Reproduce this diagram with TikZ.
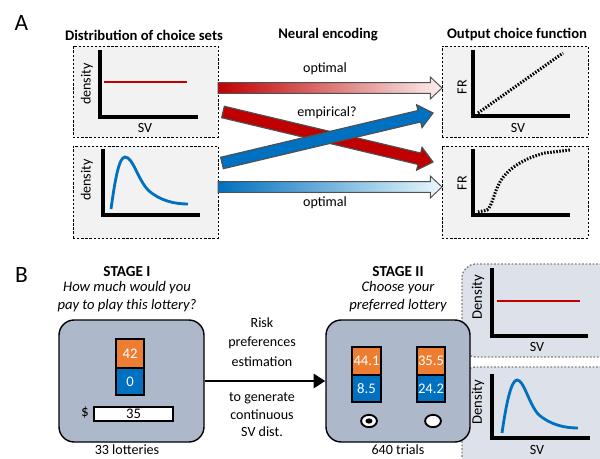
\documentclass[tikz,border=0pt]{standalone}
\usepackage{fontspec}
\setmainfont{Carlito}
\usepackage{xcolor}
\usetikzlibrary{positioning,fit,calc,arrows.meta,shapes.geometric}

\definecolor{ered}{HTML}{C00000}
\definecolor{eblue}{HTML}{0070C0}
\definecolor{redfade}{HTML}{FCEFEF}
\definecolor{bluefade}{HTML}{EAF8FC}
\definecolor{edgegray}{HTML}{505050}
\definecolor{panelgray}{HTML}{F2F2F2}
\definecolor{stagefill}{HTML}{ADB9CA}
\definecolor{distfill}{HTML}{DDE2EA}
\definecolor{lorange}{HTML}{ED7D31}
\definecolor{lblue}{HTML}{0070C0}

% block arrow: style, from, to, half width, head half width, head length
\newcommand{\fatarrow}[6]{%
  \coordinate (fa-neck) at ($(#3)!#6!(#2)$);
  \path[#1] ($(#2)!#4!90:(#3)$) -- ($(fa-neck)!#4!-90:(#2)$)
    -- ($(fa-neck)!#5!-90:(#2)$) -- (#3)
    -- ($(fa-neck)!#5!90:(#2)$) -- ($(fa-neck)!#4!90:(#2)$)
    -- ($(#2)!#4!-90:(#3)$) -- cycle;}

\begin{document}
\begin{tikzpicture}[x=0.03cm, y=-0.03cm,
    lbl/.style={font=\fontsize{12}{14}\selectfont, inner sep=1pt},
    ttl/.style={font=\bfseries\fontsize{12.5}{15}\selectfont, inner sep=1pt},
    ask/.style={font=\itshape\fontsize{12.5}{15.3}\selectfont, align=center, inner sep=1pt},
    big/.style={font=\fontsize{20}{24}\selectfont, inner sep=0pt},
    panel/.style={draw, dash pattern=on 2pt off 1.5pt, line width=0.8pt,
                  fill=panelgray, inner sep=0pt},
    distpanel/.style={draw=gray, dash pattern=on 1.5pt off 1.5pt, line width=1.2pt,
                      fill=distfill, rounded corners=12pt, inner sep=0pt},
    stagebox/.style={draw, line width=1.2pt, fill=stagefill, rounded corners=13pt,
                     inner sep=0pt},
    axis/.style={line width=2.6pt},
    redline/.style={ered, line width=1.8pt},
    bluecurve/.style={eblue, line width=2.4pt},
    frline/.style={line width=2.6pt, dash pattern=on 1.3pt off 1.3pt},
    lotO/.style={draw, line width=1.1pt, fill=lorange, inner sep=0pt},
    lotB/.style={lotO, fill=lblue},
    num/.style={text=white, inner sep=0pt, font=\fontsize{12.5}{14}\selectfont},
    radio/.style={ellipse, draw, line width=1.6pt, fill=white, minimum width=13.5pt,
                  minimum height=10.5pt, inner sep=0pt},
    pickdot/.style={ellipse, fill, minimum width=6pt, minimum height=4.5pt, inner sep=0pt},
    arr/.style={line width=2.5pt, -{Triangle[length=10pt, width=12pt]}}
]
\useasboundingbox (0,0) rectangle (600,459);
\clip (0,0) rectangle (600,459);

%%% A
\node[big] (labA) at (21.5,22.5) {A};
\node[ttl] (tDist) at (144,35) {Distribution of choice sets};
\node[ttl] (tEnc)  at (328,35) {Neural encoding};
\node[ttl] (tOut)  at (517,35) {Output choice function};

\node[panel, fit={(73,46) (218,137)}]  (distU) {};
\node[panel, fit={(73,146) (218,238)}] (distL) {};
\node[panel, fit={(442,46) (588,137)}]  (outU) {};
\node[panel, fit={(442,146) (588,238)}] (outL) {};

% uniform distribution
\draw[axis] (100,50) -- (100,117) -- (198,117);
\draw[redline] (104,82) -- (187,82);
\node[lbl, rotate=90] (denU) at (87,84) {density};
\node[lbl] (svU) at (145,128) {SV};

% skewed distribution
\draw[axis] (103,149) -- (103,215) -- (200,215);
\draw[bluecurve] (111,209) .. controls (115,180) and (119,157) .. (125,157)
  .. controls (133,157) and (137,178) .. (148,190)
  .. controls (160,201) and (175,204) .. (188,204);
\node[lbl, rotate=90] (denL) at (87,180) {density};

% linear output
\draw[axis] (473,50) -- (473,116) -- (570,116);
\draw[frline] (478,113) -- (563,53);
\node[lbl, rotate=90] (frU) at (462,87) {FR};
\node[lbl] (svO) at (518,128) {SV};

% sigmoid output
\draw[axis] (473,149) -- (473,215) -- (570,215);
\draw[frline] (478,212) -- (487,210) .. controls (492,207) and (494,192) .. (500,182)
  .. controls (508,168) and (525,158) .. (545,153) -- (570,150);
\node[lbl, rotate=90] (frL) at (462,183) {FR};

% encodings
\coordinate (optRa) at (218,88);  \coordinate (optRb) at (442,88);
\coordinate (optBa) at (218,187); \coordinate (optBb) at (442,187);
\coordinate (empRa) at (223,112); \coordinate (empRb) at (433,162);
\coordinate (empBa) at (222,163); \coordinate (empBb) at (433,113);

\fatarrow{left color=ered, right color=redfade, draw=edgegray, line width=0.8pt}{optRa}{optRb}{4.6pt}{9.4pt}{10pt}
\fatarrow{left color=eblue, right color=bluefade, draw=edgegray, line width=0.8pt}{optBa}{optBb}{4.6pt}{9.4pt}{10pt}
\fatarrow{fill=ered, draw=edgegray, line width=1pt}{empRa}{empRb}{5pt}{10pt}{12pt}
\fatarrow{fill=eblue, draw=edgegray, line width=1pt}{empBa}{empBb}{5pt}{10pt}{12pt}

\node[lbl] (optTop) at (325,69) {optimal};
\node[lbl] (emp) at (327,113) {empirical?};
\node[lbl] (optBot) at (325,203) {optimal};

%%% B
\node[big] (labB) at (21.5,275) {B};

% estimated SV distributions
\node[distpanel, fit={(462,264) (640,357)}] (svU2) {};
\node[distpanel, fit={(462,367) (640,520)}] (svL2) {};
\draw[axis] (492,268) -- (492,336) -- (588,336);
\draw[redline] (497,301) -- (580,301);
\node[lbl, font=\fontsize{12.5}{14}\selectfont, rotate=90] (denB1) at (478,297) {Density};
\node[lbl] (svB1) at (537,347) {SV};
\draw[axis] (492,374) -- (492,438) -- (590,438);
\draw[bluecurve] (502,433) .. controls (506,405) and (511,380) .. (517,380)
  .. controls (524,380) and (528,402) .. (538,414)
  .. controls (550,425) and (565,428) .. (578,428);
\node[lbl, font=\fontsize{12.5}{14}\selectfont, rotate=90] (denB2) at (478,402) {Density};
\node[lbl] (svB2) at (537,450) {SV};

% stage I
\node[ttl, font=\bfseries\fontsize{13}{15}\selectfont] (st1) at (127,272) {STAGE I};
\node[ask] (q1) at (127,297) {How much would you\\pay to play this lottery?};
\node[stagebox, fit={(59,320) (204,442)}] (stage1) {};
\node[lotO, fit={(116,339) (144,368)}] (lot0a) {};
\node[lotB, fit={(116,368) (144,395)}] (lot0b) {};
\node[num] at (lot0a) {42};
\node[num] at (lot0b) {0};
\node[lbl, font=\fontsize{13}{14}\selectfont] (dollar) at (85,413) {\$};
\node[draw, fill=white, line width=1.1pt, inner sep=0pt, fit={(94,407) (173,421)}] (bid) {};
\node[num, text=black] at (bid) {35};
\node[lbl] (n1) at (127,450) {33 lotteries};

% stage II
\node[ttl, font=\bfseries\fontsize{13}{15}\selectfont] (st2) at (398,272) {STAGE II};
\node[ask] (q2) at (398,297) {Choose your\\preferred lottery};
\node[stagebox, fit={(326,320) (470,442)}] (stage2) {};
\node[lotO, fit={(352,347) (381,375)}] (lot1a) {};
\node[lotB, fit={(352,375) (381,402)}] (lot1b) {};
\node[lotO, fit={(417,347) (445,375)}] (lot2a) {};
\node[lotB, fit={(417,375) (445,402)}] (lot2b) {};
\node[num] at (lot1a) {44.1};
\node[num] at (lot1b) {8.5};
\node[num] at (lot2a) {35.5};
\node[num] at (lot2b) {24.2};
\node[radio] (pick1) at (369,421) {};
\node[pickdot] (pick1dot) at (pick1) {};
\node[radio] (pick2) at (433,421) {};
\node[lbl] (n2) at (398,450) {640 trials};

\draw[arr] (stage1) -- (stage2);
\node[lbl, font=\fontsize{12}{16.5}\selectfont, align=center] (risk) at (262,342)
     {Risk\\preferences\\estimation};
\node[lbl, font=\fontsize{12}{15}\selectfont, align=center] (gen) at (262,415)
     {to generate\\continuous\\SV dist.};
\end{tikzpicture}
\end{document}
